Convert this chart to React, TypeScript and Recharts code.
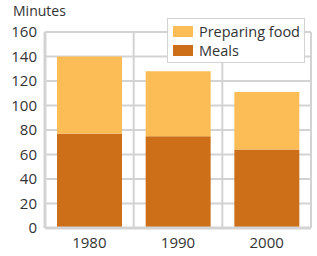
import React from "react";
import { BarChart, Bar, XAxis, YAxis, CartesianGrid, Legend } from "recharts";

const years = ["1980", "1990", "2000"];
const meals = [77, 75, 64];
const preparing = [63, 53, 47];
const yTicks = [0, 20, 40, 60, 80, 100, 120, 140, 160];

const data = years.map((y, i) => ({ year: y, meals: meals[i], preparing: preparing[i] }));

const FONT = "'Open Sans', 'Noto Sans', sans-serif";
const C_PREP = "#FDBD56";
const C_MEALS = "#CD6F19";
const GRID = "#D3D3D3";
const TEXT = "#333";

const LegendBox = () => (
  <div
    style={{
      border: `1.5px solid ${GRID}`,
      background: "#fff",
      padding: "3px 4px 2px 5px",
      fontFamily: FONT,
      fontSize: 14.5,
      color: TEXT,
      lineHeight: "19px",
      width: 127,
      boxSizing: "content-box",
    }}
  >
    {[
      ["Preparing food", C_PREP],
      ["Meals", C_MEALS],
    ].map(([label, color]) => (
      <div key={label} style={{ display: "flex", alignItems: "center", whiteSpace: "nowrap" }}>
        <span style={{ display: "inline-block", width: 20, height: 11, background: color, marginRight: 6 }} />
        {label}
      </div>
    ))}
  </div>
);

export default function App() {
  return (
    <div style={{ position: "absolute", left: 0, top: 0, width: 317, height: 256, background: "#fff" }}>
      <div
        style={{
          position: "absolute",
          left: 13,
          top: 2,
          fontFamily: FONT,
          fontSize: 14,
          lineHeight: "18px",
          color: TEXT,
        }}
      >
        Minutes
      </div>
      <BarChart
        width={317}
        height={256}
        data={data}
        margin={{ top: 32, right: 6, left: 0, bottom: 0 }}
        barCategoryGap={12}
      >
        <CartesianGrid
          stroke={GRID}
          strokeWidth={2}
          verticalCoordinatesGenerator={({ offset }: any) =>
            years.map((_, i) => offset.left + ((i + 1) * offset.width) / years.length)
          }
        />
        <XAxis
          dataKey="year"
          height={28}
          tickLine={false}
          axisLine={{ stroke: GRID, strokeWidth: 3 }}
          tick={{ fill: TEXT, fontSize: 15, fontFamily: FONT }}
          tickMargin={3}
        />
        <YAxis
          width={45}
          domain={[0, 160]}
          ticks={yTicks}
          interval={0}
          tickLine={false}
          axisLine={{ stroke: GRID, strokeWidth: 3 }}
          tick={{ fill: TEXT, fontSize: 15, fontFamily: FONT }}
          tickMargin={2}
        />
        <Legend
          verticalAlign="middle"
          align="center"
          content={() => <LegendBox />}
          wrapperStyle={{ position: "absolute", left: 167, top: 18, width: "auto" }}
        />
        <Bar dataKey="meals" stackId="a" fill={C_MEALS} isAnimationActive={false} />
        <Bar dataKey="preparing" stackId="a" fill={C_PREP} isAnimationActive={false} />
      </BarChart>
    </div>
  );
}
